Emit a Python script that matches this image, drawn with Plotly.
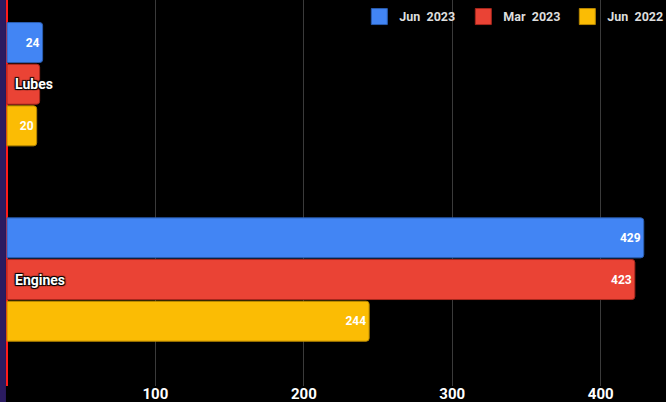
import plotly.graph_objects as go

categories = ["Lubes", "Engines"]
series_names = ["Jun\u00a0\u00a02023", "Mar\u00a0\u00a02023", "Jun\u00a0\u00a02022"]
jun_2023 = [24, 429]
mar_2023 = [22, 423]
jun_2022 = [20, 244]
tick_values = [0, 100, 200, 300, 400]
tick_labels = ["", "100", "200", "300", "400"]

colors = ["#4285F4", "#EA4335", "#FBBC04"]
edge_colors = ["#2a5db0", "#a8281d", "#b88800"]

fig = go.Figure()
for k, (name, vals, c, ec) in enumerate(zip(series_names, [jun_2023, mar_2023, jun_2022], colors, edge_colors)):
    # the category label covers the value on the middle Lubes bar in the reference
    labels = ["" if (k == 1 and i == 0) else str(v) for i, v in enumerate(vals)]
    fig.add_trace(go.Bar(
        y=categories, x=vals, name=name, orientation="h",
        marker=dict(color=c, line=dict(color=ec, width=1)),
        text=labels, textposition="inside", insidetextanchor="end",
        textfont=dict(family="Roboto", size=12, color="white", weight="bold"),
        hoverinfo="skip", showlegend=False, legendgroup=name,
    ))

# legend entries with larger square swatches
for name, c, ec in zip(series_names, colors, edge_colors):
    fig.add_trace(go.Scatter(
        x=[None], y=[None], mode="markers", name=name, legendgroup=name,
        marker=dict(symbol="square", size=16, color=c, line=dict(color=ec, width=1)),
        hoverinfo="skip", showlegend=True,
    ))

for cat in categories:
    fig.add_annotation(
        x=0, y=cat, xref="x", yref="y", text=cat, showarrow=False,
        xanchor="left", xshift=6,
        font=dict(family="Roboto", size=14, color="white", weight="bold",
                  shadow="1px 1px 1px #000, -1px -1px 1px #000, 1px -1px 1px #000, -1px 1px 1px #000"),
    )

# purple strip left of the zero line (clipped to the axis range in x only)
fig.add_shape(type="rect", xref="x", yref="paper", x0=-20, x1=-0.7, y0=-0.2, y1=1.0,
              fillcolor="#2b1b60", line=dict(width=0), layer="above")

fig.update_layout(
    width=666, height=402,
    margin=dict(l=0, r=0, t=0, b=16, autoexpand=False),
    paper_bgcolor="black", plot_bgcolor="black",
    barmode="group", bargap=0.36, bargroupgap=0.04, barcornerradius=3,
    showlegend=True,
    legend=dict(orientation="h", x=1.008, xanchor="right", y=0.995, yanchor="top",
                bgcolor="rgba(0,0,0,0)", itemclick=False, itemdoubleclick=False,
                entrywidth=59, entrywidthmode="pixels",
                font=dict(family="Roboto", size=12.5, color="#dddddd", weight="bold"), traceorder="normal"),
    xaxis=dict(range=[-4.71, 444], tickvals=tick_values, ticktext=tick_labels,
               showgrid=True, gridcolor="#3a3a3a", gridwidth=1,
               zeroline=True, zerolinecolor="#ff1a1a", zerolinewidth=2,
               showline=False, ticks="", automargin=False, ticklabelstandoff=-3,
               tickfont=dict(family="Roboto", size=15, color="white", weight="bold",
                             shadow="1px 1px 1px #000, -1px -1px 1px #000")),
    yaxis=dict(range=[1.545, -0.431], showticklabels=False, showgrid=False, zeroline=False,
               showline=False, ticks="", automargin=False),
    font=dict(family="Roboto"),
)

fig.write_html("out.html", config={"displayModeBar": False},
               post_script="document.body.style.margin='0';document.body.style.overflow='hidden';")
